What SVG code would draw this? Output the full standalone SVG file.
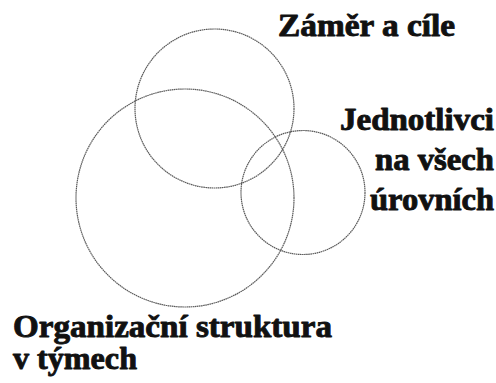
<svg xmlns="http://www.w3.org/2000/svg" width="496" height="383" viewBox="0 0 496 383">
<style>
.c{fill:none;stroke:#5a5a5a;stroke-width:1.2;stroke-dasharray:1.6 0.5}
.t{font-family:"Liberation Serif","Times New Roman",serif;font-weight:bold;font-size:31px;fill:#111;stroke:#111;stroke-width:0.9;stroke-linejoin:round}
</style>
<rect width="496" height="383" fill="#fff"/>
<g id="zamer">
<circle class="c" cx="214.5" cy="108.5" r="79.5"/>
<text class="t" x="278" y="36" textLength="177" lengthAdjust="spacingAndGlyphs">Záměr a cíle</text>
</g>
<g id="organizace">
<circle class="c" cx="185" cy="198" r="109"/>
<text class="t" x="13" y="337" textLength="319" lengthAdjust="spacingAndGlyphs">Organizační struktura</text>
<text class="t" x="13" y="369" textLength="124" lengthAdjust="spacingAndGlyphs">v týmech</text>
</g>
<g id="jednotlivci">
<circle class="c" cx="303" cy="192.5" r="62"/>
<text class="t" x="340" y="130" textLength="154" lengthAdjust="spacingAndGlyphs">Jednotlivci</text>
<text class="t" x="375" y="170" textLength="119" lengthAdjust="spacingAndGlyphs">na všech</text>
<text class="t" x="370" y="210" textLength="124" lengthAdjust="spacingAndGlyphs">úrovních</text>
</g>
<g id="connectors"></g>
</svg>
